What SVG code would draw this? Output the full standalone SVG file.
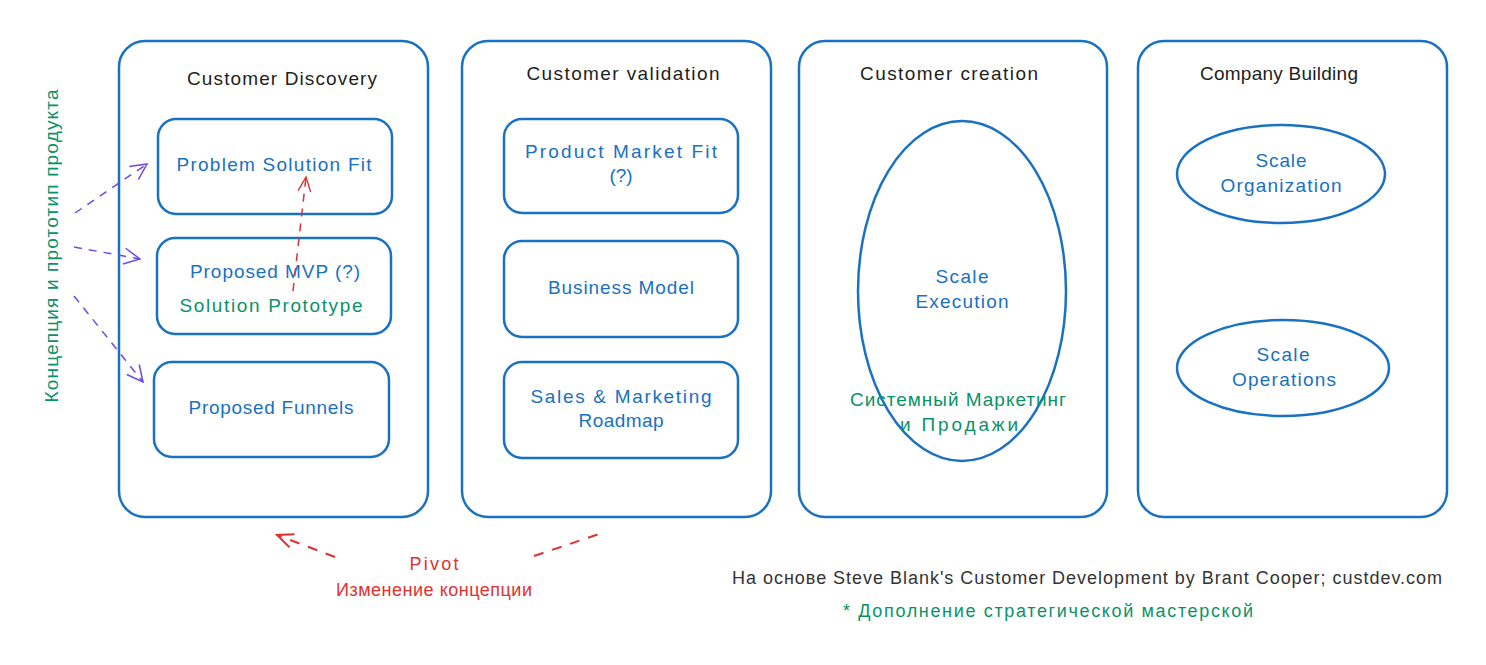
<svg xmlns="http://www.w3.org/2000/svg" width="1486" height="665" viewBox="0 0 1486 665">
<defs>
<style>
.box{fill:none;stroke:#1971c2;stroke-width:2.5}
.t{font-family:"Liberation Sans","Noto Sans",sans-serif;text-anchor:middle}
.title{font-size:19px;fill:#1e1e1e}
.blue{font-size:19px;fill:#1971c2}
.green{font-size:19px;fill:#099268}
.red{font-size:18px;fill:#e03131}
.pur{fill:none;stroke:#7048e8;stroke-width:1.5;stroke-dasharray:8 7}
.redl{fill:none;stroke:#e03131;stroke-width:1.5;stroke-dasharray:8 7}
.redp{fill:none;stroke:#e03131;stroke-width:2;stroke-dasharray:10 9}
</style>
<marker id="ap" viewBox="0 0 20 20" refX="18" refY="10" markerWidth="20" markerHeight="20" markerUnits="userSpaceOnUse" orient="auto"><path d="M2 2 L18 10 L2 18" fill="none" stroke="#7048e8" stroke-width="1.5"/></marker>
<marker id="ar" viewBox="0 0 20 20" refX="18" refY="10" markerWidth="18" markerHeight="18" markerUnits="userSpaceOnUse" orient="auto"><path d="M2 3 L18 10 L2 17" fill="none" stroke="#e03131" stroke-width="1.5"/></marker>
<marker id="ar2" viewBox="0 0 20 20" refX="18" refY="10" markerWidth="20" markerHeight="20" markerUnits="userSpaceOnUse" orient="auto"><path d="M2 3 L18 10 L2 17" fill="none" stroke="#e03131" stroke-width="2"/></marker>
</defs>
<rect width="1486" height="665" fill="#ffffff"/>

<g id="stage-discovery">
<rect class="box" x="119" y="41" width="309" height="476" rx="26"/>
<text class="t title" x="282" y="85" textLength="190">Customer Discovery</text>
</g>
<g id="stage-validation">
<rect class="box" x="462" y="41" width="309" height="476" rx="26"/>
<text class="t title" x="623" y="80" textLength="193">Customer validation</text>
</g>
<g id="stage-creation">
<rect class="box" x="799" y="41" width="308" height="476" rx="26"/>
<text class="t title" x="949" y="80" textLength="178">Customer creation</text>
</g>
<g id="stage-building">
<rect class="box" x="1138" y="41" width="309" height="476" rx="26"/>
<text class="t title" x="1279" y="80" textLength="158">Company Building</text>
</g>

<g id="problem-solution-fit">
<rect class="box" x="158" y="119" width="234" height="95" rx="18"/>
<text class="t blue" x="274" y="171" textLength="195">Problem Solution Fit</text>
</g>
<g id="proposed-mvp">
<rect class="box" x="157" y="238" width="234" height="96" rx="18"/>
<text class="t blue" x="275" y="278" textLength="170">Proposed MVP (?)</text>
<text class="t green" x="271" y="312" textLength="183">Solution Prototype</text>
</g>
<g id="proposed-funnels">
<rect class="box" x="154" y="362" width="235" height="95" rx="18"/>
<text class="t blue" x="271" y="414" textLength="165">Proposed Funnels</text>
</g>

<g id="product-market-fit">
<rect class="box" x="504" y="119" width="234" height="94" rx="18"/>
<text class="t blue" x="621" y="158" textLength="192">Product Market Fit</text>
<text class="t blue" x="621" y="182">(?)</text>
</g>
<g id="business-model">
<rect class="box" x="504" y="241" width="234" height="96" rx="18"/>
<text class="t blue" x="621" y="294" textLength="146">Business Model</text>
</g>
<g id="sales-marketing">
<rect class="box" x="504" y="362" width="234" height="96" rx="18"/>
<text class="t blue" x="621" y="403" textLength="181">Sales &amp; Marketing</text>
<text class="t blue" x="621" y="427" textLength="85">Roadmap</text>
</g>

<g id="scale-execution">
<ellipse class="box" cx="962" cy="291" rx="104" ry="170"/>
<text class="t blue" x="962" y="283" textLength="53">Scale</text>
<text class="t blue" x="962" y="308" textLength="93">Execution</text>
<text class="t green" x="958" y="406" textLength="216">Системный Маркетинг</text>
<text class="t green" x="959" y="431" textLength="118">и Продажи</text>
</g>
<g id="scale-organization">
<ellipse class="box" cx="1281" cy="174" rx="104" ry="49"/>
<text class="t blue" x="1281" y="167" textLength="51">Scale</text>
<text class="t blue" x="1281" y="192" textLength="121">Organization</text>
</g>
<g id="scale-operations">
<ellipse class="box" cx="1283" cy="368" rx="106" ry="48"/>
<text class="t blue" x="1283" y="361" textLength="53">Scale</text>
<text class="t blue" x="1284" y="386" textLength="104">Operations</text>
</g>

<g id="concept-label">
<text class="t green" transform="translate(58 246) rotate(-90)" x="0" y="0" textLength="313">Концепция и прототип продукта</text>
</g>

<g id="pivot-label">
<text class="t red" x="434" y="570" textLength="49">Pivot</text>
<text class="t red" x="434" y="596" textLength="196">Изменение концепции</text>
</g>

<g id="footer">
<text class="t" x="1087" y="584" textLength="710" style="font-size:18px;fill:#333333">На основе Steve Blank's Customer Development by Brant Cooper; custdev.com</text>
<text class="t green" x="1048" y="617" textLength="410" style="font-size:18px">* Дополнение стратегической мастерской</text>
</g>

<g id="connectors">
<path class="pur" d="M75 213 L147 164" marker-end="url(#ap)"/>
<path class="pur" d="M74 247 L140 259" marker-end="url(#ap)"/>
<path class="pur" d="M74 296 L143 382" marker-end="url(#ap)"/>
<path class="redl" d="M293 291 L306 177" marker-end="url(#ar)"/>
<path class="redp" d="M335 557 L277 535" marker-end="url(#ar2)"/>
<path class="redp" d="M534 556 L605 532"/>
</g>
</svg>
